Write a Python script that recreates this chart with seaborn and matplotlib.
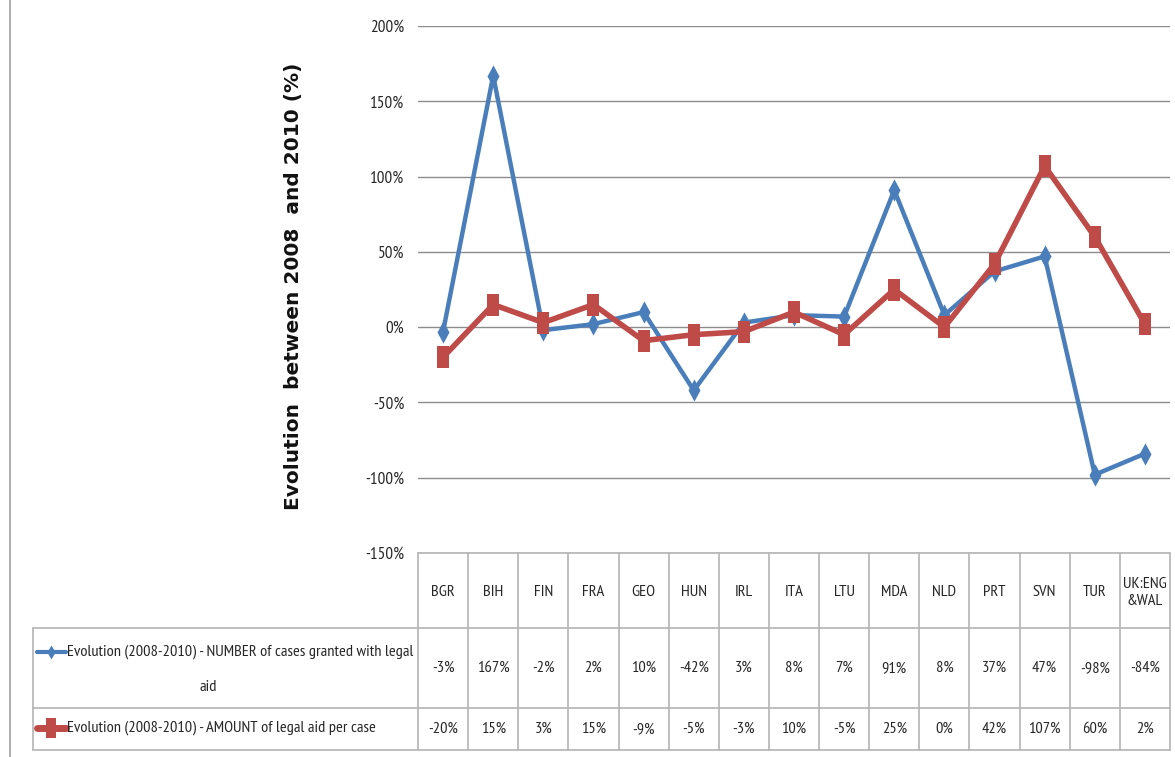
import matplotlib
matplotlib.use("Agg")
import matplotlib.pyplot as plt
import seaborn as sns
import pandas as pd
from matplotlib.path import Path

categories = ["BGR", "BIH", "FIN", "FRA", "GEO", "HUN", "IRL", "ITA", "LTU",
              "MDA", "NLD", "PRT", "SVN", "TUR", "UK:ENG\n&WAL"]
number_cases = [-3, 167, -2, 2, 10, -42, 3, 8, 7, 91, 8, 37, 47, -98, -84]
amount_per_case = [-20, 15, 3, 15, -9, -5, -3, 10, -5, 25, 0, 42, 107, 60, 2]
series_name_a_line1 = "Evolution (2008-2010) - NUMBER of cases granted with legal"
series_name_a_line2 = "aid"
series_name_b = "Evolution (2008-2010) - AMOUNT of legal aid per case"
yticks = [-150, -100, -50, 0, 50, 100, 150, 200]
ylabel = "Evolution  between 2008  and 2010 (%)"

sns.set_theme(style="white")
plt.rcParams["font.family"] = ["PT Sans Narrow", "DejaVu Sans"]
FS = 11.8
TXT = "#262626"

W, H = 1175, 757
fig = plt.figure(figsize=(W / 100, H / 100), dpi=100)

x0, x1 = 418, 1170
ytop, ybot = 26, 553
ax = fig.add_axes([x0 / W, 1 - ybot / H, (x1 - x0) / W, (ybot - ytop) / H])

blue = "#4A7EBB"
red = "#BE4B48"
tall_diamond = Path([(0, 0.5), (0.27, 0), (0, -0.5), (-0.27, 0), (0, 0.5)], closed=True)
tall_square = Path([(-0.25, -0.5), (0.25, -0.5), (0.25, 0.5), (-0.25, 0.5), (-0.25, -0.5)], closed=True)

n = len(categories)
df = pd.DataFrame({"x": list(range(n)) * 2,
                   "v": number_cases + amount_per_case,
                   "s": ["A"] * n + ["B"] * n})
sns.lineplot(data=df[df.s == "A"], x="x", y="v", ax=ax, color=blue, lw=3.2,
             marker=tall_diamond, markersize=16, markeredgewidth=0, legend=False)
sns.lineplot(data=df[df.s == "B"], x="x", y="v", ax=ax, color=red, lw=4,
             marker=tall_square, markersize=16, markeredgewidth=0, legend=False)

ax.set_xlim(-0.5, n - 0.5)
ax.set_ylim(-150, 200)
ax.set_yticks(yticks)
ax.set_yticklabels([f"{t}%" for t in yticks], fontsize=12.3, color=TXT)
ax.set_xticks([])
ax.set_xlabel("")
ax.set_ylabel("")
for t in yticks:
    ax.axhline(t, color="#8C8C8C", lw=1, zorder=0)
for s in ax.spines.values():
    s.set_visible(False)
ax.tick_params(axis="y", length=0, pad=10)

fig.text(293 / W, 1 - 286 / H, ylabel, rotation=90, ha="center", va="center",
         fontsize=14.5, fontweight="bold", family="DejaVu Sans", color="#111111")

# table drawn in pixel coordinates
tax = fig.add_axes([0, 0, 1, 1])
tax.set_xlim(0, W)
tax.set_ylim(H, 0)
tax.axis("off")
gc = "#B4B4B4"
colw = (x1 - x0) / n
r0, r1, r2, r3 = 553, 628, 708, 750
lx = 33
tax.plot([x0, x1], [r0, r0], color=gc, lw=1.2)
for yy in (r1, r2, r3):
    tax.plot([lx, x1], [yy, yy], color=gc, lw=1.2)
for i in range(n + 1):
    xx = x0 + i * colw
    tax.plot([xx, xx], [r0, r3], color=gc, lw=1.2)
tax.plot([lx, lx], [r1, r3], color=gc, lw=1.2)
tax.plot([10, 10], [0, H], color="#A0A0A0", lw=1.2)

for i, c in enumerate(categories):
    cx = x0 + (i + 0.5) * colw
    tax.text(cx, (r0 + r1) / 2 + 2, c, ha="center", va="center", fontsize=FS,
             color=TXT, linespacing=1.35)
    tax.text(cx, (r1 + r2) / 2, f"{number_cases[i]}%", ha="center", va="center",
             fontsize=FS, color=TXT)
    tax.text(cx, (r2 + r3) / 2, f"{amount_per_case[i]}%", ha="center", va="center",
             fontsize=FS, color=TXT)

# legend entries
leg_diamond = Path([(0, 0.5), (0.3, 0), (0, -0.5), (-0.3, 0), (0, 0.5)], closed=True)
tax.plot([37, 66], [652, 652], color=blue, lw=3)
tax.plot([51], [652], marker=leg_diamond, color=blue, markersize=10, markeredgewidth=0)
tax.text(67, 652, series_name_a_line1, ha="left", va="center", fontsize=FS, color=TXT)
tax.text(208, 687, series_name_a_line2, ha="center", va="center", fontsize=FS, color=TXT)
tax.plot([37, 66], [728, 728], color=red, lw=5)
tax.plot([51], [728], marker=tall_square, color=red, markersize=14.5, markeredgewidth=0)
tax.text(67, 728, series_name_b, ha="left", va="center", fontsize=FS, color=TXT)

fig.savefig("out.png", dpi=100, facecolor="white")
